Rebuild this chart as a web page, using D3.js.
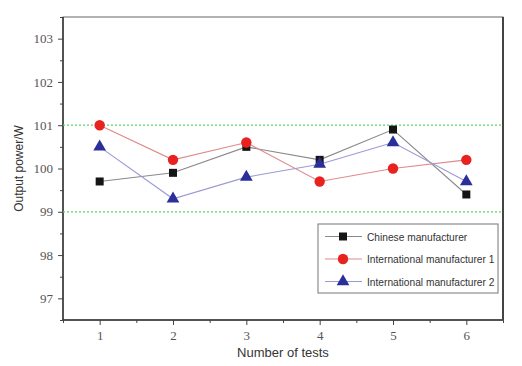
<!DOCTYPE html>
<html>
<head>
<meta charset="utf-8">
<script src="https://cdn.jsdelivr.net/npm/d3@7"></script>
<style>
  body { margin: 0; background: #fff; }
  .tick text { font-family: "Liberation Serif", serif; font-size: 13px; fill: #555; }
  .axis-title { font-family: "Liberation Sans", Arial, sans-serif; font-size: 13px; fill: #333; }
  .legend text { font-family: "Liberation Sans", Arial, sans-serif; font-size: 10.2px; fill: #333; }
</style>
</head>
<body>
<div id="chart"></div>
<script>

var tests        = [1, 2, 3, 4, 5, 6];
var chinese      = [99.7, 99.9, 100.5, 100.2, 100.9, 99.4];
var intl1        = [101.0, 100.2, 100.6, 99.7, 100.0, 100.2];
var intl2        = [100.5, 99.3, 99.8, 100.1, 100.6, 99.7];
var seriesNames  = ["Chinese manufacturer", "International manufacturer 1", "International manufacturer 2"];
var yTicks       = [97, 98, 99, 100, 101, 102, 103];
var limits       = [99, 101];

var width = 522, height = 366;
var margin = {top: 17, right: 19, bottom: 46, left: 63};
var w = width - margin.left - margin.right;
var h = height - margin.top - margin.bottom;

var svg = d3.select("#chart").append("svg")
  .attr("width", width)
  .attr("height", height)
  .append("g")
    .attr("transform", "translate(" + margin.left + "," + margin.top + ")");

var x = d3.scaleLinear().domain([0.5, 6.5]).range([0, w]);
var y = d3.scaleLinear().domain([96.5, 103.5]).range([h, 0]);

function styleAxis(g){
  g.select(".domain").remove();
  g.selectAll("line").attr("stroke", "#444");
}

// minor ticks
svg.append("g")
  .attr("transform", "translate(0," + h + ")")
  .call(d3.axisBottom(x).tickValues(d3.range(0.5, 7, 1)).tickSize(3).tickFormat(""))
  .call(styleAxis);
svg.append("g")
  .call(d3.axisLeft(y).tickValues(d3.range(96.5, 103.6, 1)).tickSize(3).tickFormat(""))
  .call(styleAxis);

// major ticks
svg.append("g")
  .attr("transform", "translate(0," + h + ")")
  .call(d3.axisBottom(x).tickValues(tests).tickSize(5).tickPadding(6).tickFormat(d3.format("d")))
  .call(styleAxis);
svg.append("g")
  .call(d3.axisLeft(y).tickValues(yTicks).tickSize(5).tickPadding(5).tickFormat(d3.format("d")))
  .call(styleAxis);

// frame
svg.append("rect")
  .attr("width", w).attr("height", h)
  .attr("fill", "none").attr("stroke", "#666").attr("stroke-width", 1);
svg.append("line")
  .attr("x1", 0).attr("x2", w).attr("y1", h).attr("y2", h)
  .attr("stroke", "#333").attr("stroke-width", 1.5);
svg.append("line")
  .attr("x1", 0).attr("x2", 0).attr("y1", 0).attr("y2", h)
  .attr("stroke", "#333").attr("stroke-width", 1.5);
svg.append("line")
  .attr("x1", w).attr("x2", w).attr("y1", 0).attr("y2", h)
  .attr("stroke", "#444").attr("stroke-width", 2);

// limit lines
svg.selectAll(".limit")
  .data(limits)
  .enter().append("line")
  .attr("class", "limit")
  .attr("x1", 0).attr("x2", w)
  .attr("y1", function(d){ return y(d); })
  .attr("y2", function(d){ return y(d); })
  .attr("stroke", "#5fd26a")
  .attr("stroke-width", 1.2)
  .attr("stroke-dasharray", "2,2");

var series = [
  {name: seriesNames[0], values: chinese, line: "#8a8a8a", fill: "#151515", shape: d3.symbolSquare, size: 64},
  {name: seriesNames[1], values: intl1,   line: "#e08a8a", fill: "#e8231f", shape: d3.symbolCircle, size: 85},
  {name: seriesNames[2], values: intl2,   line: "#9a9ad6", fill: "#2a2f9a", shape: d3.symbolTriangle, size: 70}
];

var line = d3.line()
  .x(function(d, i){ return x(tests[i]); })
  .y(function(d){ return y(d); });

series.forEach(function(s){
  svg.append("path")
    .datum(s.values)
    .attr("d", line)
    .attr("fill", "none")
    .attr("stroke", s.line)
    .attr("stroke-width", 1.1);
});

series.forEach(function(s){
  svg.append("g")
    .selectAll("path")
    .data(s.values)
    .enter().append("path")
    .attr("d", d3.symbol().type(s.shape).size(s.size))
    .attr("transform", function(d, i){ return "translate(" + x(tests[i]) + "," + y(d) + ")"; })
    .attr("fill", s.fill);
});

// legend
var lx = 318 - margin.left, ly = 224 - margin.top;
var legend = svg.append("g")
  .attr("class", "legend")
  .attr("transform", "translate(" + lx + "," + ly + ")");
legend.append("rect")
  .attr("width", 180).attr("height", 69)
  .attr("fill", "#fff").attr("stroke", "#777").attr("stroke-width", 1);
series.forEach(function(s, i){
  var yy = 12.5 + i * 22.5;
  legend.append("line")
    .attr("x1", 7).attr("x2", 44).attr("y1", yy).attr("y2", yy)
    .attr("stroke", s.line).attr("stroke-width", 1.1);
  legend.append("path")
    .attr("d", d3.symbol().type(s.shape).size(s.size))
    .attr("transform", "translate(25," + yy + ")")
    .attr("fill", s.fill);
  legend.append("text")
    .attr("x", 49).attr("y", yy + 4)
    .text(s.name);
});

// axis titles
svg.append("text")
  .attr("class", "axis-title")
  .attr("x", w / 2).attr("y", h + 37)
  .attr("text-anchor", "middle")
  .text("Number of tests");
svg.append("text")
  .attr("class", "axis-title")
  .style("font-size", "12px")
  .attr("transform", "translate(" + (-40) + "," + (h / 2) + ") rotate(-90)")
  .attr("text-anchor", "middle")
  .text("Output power/W");

</script>
</body>
</html>
